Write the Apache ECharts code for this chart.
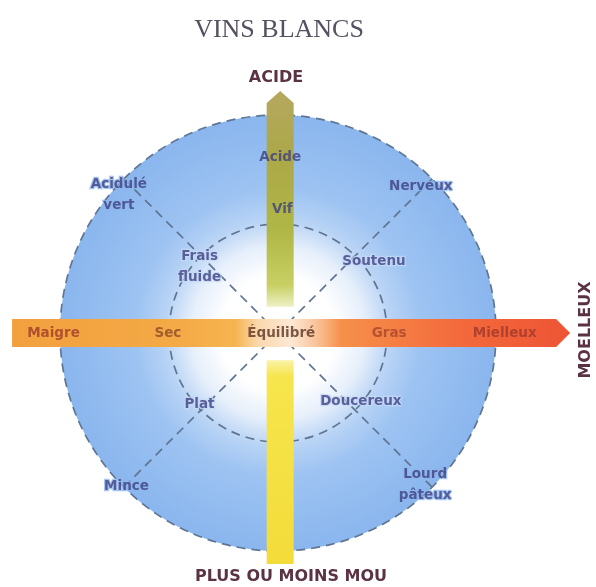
<!DOCTYPE html>
<html>
<head>
<meta charset="utf-8">
<script src="https://cdn.jsdelivr.net/npm/echarts@6/dist/echarts.min.js"></script>
<style>
  html, body { margin: 0; padding: 0; background: #fff; }
  #chart { width: 596px; height: 587px; }
</style>
</head>
<body>
<div id="chart"></div>
<script>
// descriptors placed on the two scales: x = moelleux, y = acidité (inner ring = 1, outer ring = 2)
const ringWords = ['Acide', 'Vif', 'Acidulé\nvert', 'Frais\nfluide', 'Nerveux', 'Soutenu', 'Plat', 'Doucereux', 'Mince', 'Lourd\npâteux']
const ringX = [0.02, 0.04, -1.46, -0.72, 1.31, 0.88, -0.72, 0.76, -1.39, 1.35]
const ringY = [1.61, 1.13, 1.27, 0.61, 1.34, 0.66, -0.66, -0.63, -1.41, -1.39]

// words written on the moelleux arrow (y = 0)
const barWords = ['Maigre', 'Sec', 'Équilibré', 'Gras', 'Mielleux']
const barX = [-2.06, -1.01, 0.03, 1.02, 2.08]

// extent of the arrows along their axis
const acideRange = [0.24, 2.22]
const mouRange = [-0.25, -2.12]
const moelleuxRange = [-2.44, 2.68]

const ringLevels = [1, 2]

const CX = 278
const CY = 333
const UNIT = 109

const chart = echarts.init(document.getElementById('chart'))

// words off the vertical arrow get a halo in the disc colour so the dashes stop short of them
const ringData = ringWords.map((w, i) => {
  const onBar = Math.abs(ringX[i]) < 0.2
  const r = Math.hypot(ringX[i], ringY[i])
  return {
    name: w,
    value: [ringX[i], ringY[i]],
    label: onBar ? {} : { textBorderColor: r > 1.5 ? '#8db8ee' : '#c4daf6', textBorderWidth: 2.5 },
  }
})
const barColors = ['#a03c2a', '#8c4a26', '#5e3426', '#a8462c', '#9e3a2a']
const barData = barWords.map((w, i) => ({
  name: w,
  value: [barX[i], 0],
  label: { color: barColors[i] },
}))

function vertArrow(params, api) {
  const p0 = api.coord([api.value(0), api.value(1)])
  const p1 = api.coord([api.value(0), api.value(2)])
  const w = 13.5
  const head = api.value(3) ? 12 : 0
  const up = p1[1] < p0[1]
  const fill = up
    ? new echarts.graphic.LinearGradient(0, 1, 0, 0, [
        { offset: 0, color: '#eef0c6' },
        { offset: 0.1, color: '#c8d064' },
        { offset: 0.35, color: '#b0b746' },
        { offset: 0.7, color: '#aca848' },
        { offset: 1, color: '#b5a860' },
      ])
    : new echarts.graphic.LinearGradient(0, 0, 0, 1, [
        { offset: 0, color: '#faf2a8' },
        { offset: 0.08, color: '#f6e54c' },
        { offset: 1, color: '#f3dc3a' },
      ])
  const pts = head
    ? [[p0[0] - w, p0[1]], [p0[0] + w, p0[1]], [p1[0] + w, p1[1] + head], [p1[0], p1[1]], [p1[0] - w, p1[1] + head]]
    : [[p0[0] - w, p0[1]], [p0[0] + w, p0[1]], [p1[0] + w, p1[1]], [p1[0] - w, p1[1]]]
  return { type: 'polygon', shape: { points: pts }, style: { fill: fill } }
}

function horizArrow(params, api) {
  const p0 = api.coord([api.value(0), api.value(2)])
  const p1 = api.coord([api.value(1), api.value(2)])
  const h = 14
  const head = 14
  const fill = new echarts.graphic.LinearGradient(0, 0, 1, 0, [
    { offset: 0, color: '#f2a03e' },
    { offset: 0.3, color: '#f4aa46' },
    { offset: 0.4, color: '#f6b450' },
    { offset: 0.44, color: '#fad8ac' },
    { offset: 0.5, color: '#fde8d4' },
    { offset: 0.545, color: '#f9c49a' },
    { offset: 0.59, color: '#f6904a' },
    { offset: 0.8, color: '#f36a3c' },
    { offset: 1, color: '#ee5434' },
  ])
  const pts = [[p0[0], p0[1] - h], [p1[0] - head, p1[1] - h], [p1[0], p1[1]], [p1[0] - head, p1[1] + h], [p0[0], p0[1] + h]]
  return { type: 'polygon', shape: { points: pts }, style: { fill: fill } }
}

const dash = { color: '#607594', width: 1.7, type: [9, 6] }
const labelFont = { fontFamily: 'DejaVu Sans', fontSize: 13.5, fontWeight: 'bold' }
const headFont = 'bold 16px "DejaVu Sans"'

chart.setOption({
  animation: false,
  backgroundColor: '#fff',
  title: {
    text: 'VINS BLANCS',
    left: 274,
    top: 12,
    textAlign: 'center',
    textStyle: { fontFamily: 'Liberation Serif', fontSize: 26, fontWeight: 'normal', color: '#565060' },
  },
  grid: {
    left: CX - 2.5 * UNIT,
    width: 5.4 * UNIT,
    top: CY - 2.4 * UNIT,
    height: 4.7 * UNIT,
  },
  xAxis: { type: 'value', min: -2.5, max: 2.9, show: false },
  yAxis: { type: 'value', min: -2.3, max: 2.4, show: false },
  polar: { center: [CX, CY], radius: 2 * UNIT },
  radiusAxis: {
    min: 0,
    max: ringLevels[ringLevels.length - 1],
    interval: 1,
    z: 2,
    axisLine: { show: false },
    axisTick: { show: false },
    axisLabel: { show: false },
    splitLine: { show: true, lineStyle: dash },
  },
  angleAxis: {
    type: 'value',
    min: 0,
    max: 360,
    interval: 90,
    startAngle: 45,
    z: 2,
    axisLine: { show: false },
    axisTick: { show: false },
    axisLabel: { show: false },
    splitLine: { show: true, lineStyle: dash },
  },
  graphic: [
    {
      type: 'text', x: 276, y: 78, z: 10,
      style: { text: 'ACIDE', font: headFont, fill: '#5a3244', align: 'center', verticalAlign: 'middle' },
    },
    {
      type: 'text', x: 291, y: 577, z: 10,
      style: { text: 'PLUS OU MOINS MOU', font: headFont, fill: '#5a3244', align: 'center', verticalAlign: 'middle' },
    },
    {
      type: 'text', x: 586, y: 330, rotation: Math.PI / 2, z: 10,
      style: { text: 'MOELLEUX', font: headFont, fill: '#5a3244', align: 'center', verticalAlign: 'middle' },
    },
  ],
  series: [
    {
      type: 'pie',
      z: 1,
      silent: true,
      center: [CX, CY],
      radius: [0, 2 * UNIT],
      label: { show: false },
      labelLine: { show: false },
      emphasis: { disabled: true },
      data: [{
        value: 1,
        name: 'disque',
        itemStyle: {
          color: new echarts.graphic.RadialGradient(0.5, 0.5, 0.5, [
            { offset: 0, color: '#ffffff' },
            { offset: 0.26, color: '#ffffff' },
            { offset: 0.4, color: '#e6effb' },
            { offset: 0.52, color: '#b8d3f5' },
            { offset: 0.66, color: '#9dc3f2' },
            { offset: 1, color: '#8ab6ee' },
          ]),
        },
      }],
    },
    {
      type: 'custom',
      z: 3,
      silent: true,
      renderItem: vertArrow,
      data: [[0.02, acideRange[0], acideRange[1], 1], [0.02, mouRange[0], mouRange[1], 0]],
    },
    {
      type: 'custom',
      z: 3,
      silent: true,
      renderItem: horizArrow,
      data: [[moelleuxRange[0], moelleuxRange[1], 0]],
    },
    {
      type: 'scatter',
      z: 5,
      silent: true,
      symbolSize: 0,
      label: {
        show: true,
        position: 'inside',
        formatter: '{b}',
        color: '#3e4082',
        lineHeight: 21,
        align: 'center',
        ...labelFont,
      },
      data: ringData,
    },
    {
      type: 'scatter',
      z: 5,
      silent: true,
      symbolSize: 0,
      label: {
        show: true,
        position: 'inside',
        formatter: '{b}',
        ...labelFont,
      },
      data: barData,
    },
  ],
})
</script>
</body>
</html>
